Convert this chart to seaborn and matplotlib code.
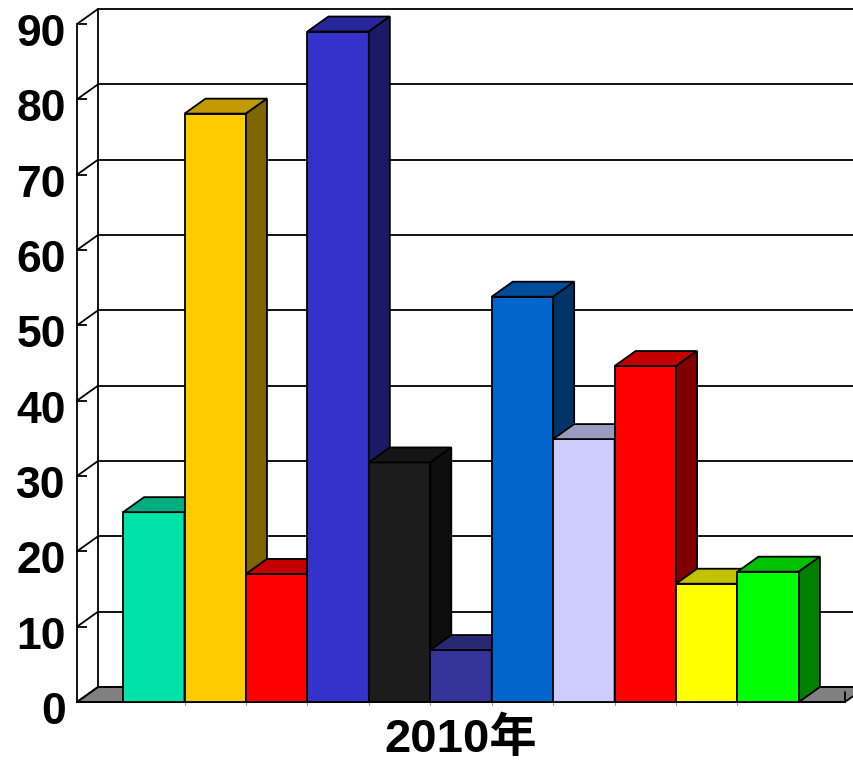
import numpy as np
import pandas as pd
import matplotlib
matplotlib.use("Agg")
import matplotlib.pyplot as plt
from matplotlib.patches import Polygon
from matplotlib.lines import Line2D
from matplotlib.colors import to_rgb
from matplotlib.transforms import ScaledTranslation
import seaborn as sns

# ---- data -------------------------------------------------------------
category = "2010年"
series = ["S1", "S2", "S3", "S4", "S5", "S6", "S7", "S8", "S9", "S10", "S11"]
values = [25.2, 78.1, 17.0, 89.0, 31.8, 6.9, 53.8, 34.9, 44.6, 15.7, 17.3]
colors = ["#00E3A8", "#FFCC00", "#FF0000", "#3333CC", "#1C1C1C", "#333399",
          "#0066CC", "#CCCCFF", "#FF0000", "#FFFF00", "#00FF00"]
yticks = list(range(0, 91, 10))

# ---- style ------------------------------------------------------------
sns.set_theme(style="white")
plt.rcParams["font.family"] = ["Liberation Sans", "Noto Sans CJK SC", "DejaVu Sans"]
plt.rcParams["font.weight"] = "bold"
plt.rcParams["text.color"] = "black"
plt.rcParams["xtick.color"] = "black"
plt.rcParams["ytick.color"] = "black"

DPI = 100
fig = plt.figure(figsize=(8.54, 7.62), dpi=DPI)
W, H = 854, 762
ax = fig.add_axes([77 / W, 1 - 702 / H, (845 - 77) / W, (702 - 24) / H])

LW = 1.3

df = pd.DataFrame({"cat": [category] * len(values), "series": series, "value": values})
sns.barplot(data=df, x="cat", y="value", hue="series", hue_order=series,
            palette=colors, saturation=1, width=0.88, legend=False,
            edgecolor="black", linewidth=LW, ax=ax)
bars = sorted(list(ax.patches), key=lambda p: p.get_x())

ax.set_xlim(-0.5, 0.5)
ax.set_ylim(0, 90)
ax.set_xlabel("")
ax.set_ylabel("")

# oblique depth offset in pixels (right, up)
DX, DY = 21, 15


def shift(x, y, dx=DX, dy=DY):
    px = ax.transData.transform((x, y)) + np.array([dx, dy])
    return tuple(ax.transData.inverted().transform(px))


# floor
floor = Polygon([(-0.5, 0), (0.5, 0), shift(0.5, 0), shift(-0.5, 0)],
                closed=True, facecolor="#808080", edgecolor="black",
                linewidth=LW, zorder=1, clip_on=False)
ax.add_patch(floor)

# back wall / side wall grid
for v in yticks:
    bx0, by0 = shift(-0.5, v)
    bx1, by1 = shift(0.5, v)
    ax.add_line(Line2D([bx0, bx1], [by0, by1], color="black", lw=LW,
                       zorder=1.5, clip_on=False))
    ax.add_line(Line2D([-0.5, bx0], [v, by0], color="black", lw=LW,
                       zorder=1.5, clip_on=False))
bx0, by0 = shift(-0.5, 0)
bx1, by1 = shift(-0.5, 90)
ax.add_line(Line2D([bx0, bx1], [by0, by1], color="black", lw=LW,
                   zorder=1.5, clip_on=False))

# bar top and side faces, drawn left to right
for i, p in enumerate(bars):
    x0 = p.get_x()
    x1 = x0 + p.get_width()
    h = p.get_height()
    base = np.array(to_rgb(p.get_facecolor()))
    p.set_zorder(3 + i)
    p.set_clip_on(False)
    top = Polygon([(x0, h), (x1, h), shift(x1, h), shift(x0, h)], closed=True,
                  facecolor=base * 0.76, edgecolor="black", linewidth=LW,
                  joinstyle="miter", zorder=3.5 + i, clip_on=False)
    side = Polygon([(x1, 0), (x1, h), shift(x1, h), shift(x1, 0)], closed=True,
                   facecolor=base * 0.5, edgecolor="black", linewidth=LW,
                   joinstyle="miter", zorder=3.5 + i, clip_on=False)
    ax.add_patch(top)
    ax.add_patch(side)

# small marks along the floor edge
for p in bars[1:]:
    xb = p.get_x()
    yb = shift(xb, 0, 0, -3)[1]
    ax.add_line(Line2D([xb, xb], [0, yb], color="#999999", lw=0.8,
                       zorder=2, clip_on=False))
ty = shift(0.5, 0, 0, 10)[1]
ax.add_line(Line2D([0.5, 0.5], [0, ty], color="black", lw=LW, zorder=2,
                   clip_on=False))

# axes
for s in ["top", "right"]:
    ax.spines[s].set_visible(False)
for s in ["left", "bottom"]:
    ax.spines[s].set_color("black")
    ax.spines[s].set_linewidth(LW)
    ax.spines[s].set_zorder(2)

ax.set_yticks(yticks)
ax.set_yticklabels([str(v) for v in yticks])
ax.tick_params(axis="y", direction="in", length=7.2, width=LW, color="black",
               labelcolor="black", pad=8, labelsize=32, left=True)
for lab in ax.get_yticklabels():
    lab.set_fontweight("bold")
    lab.set_transform(lab.get_transform() + ScaledTranslation(0, -6 / DPI, fig.dpi_scale_trans))

ax.set_xticks([0])
ax.set_xticklabels([category])
ax.tick_params(axis="x", length=0, pad=11, labelsize=34, labelcolor="black")
for lab in ax.get_xticklabels():
    lab.set_fontweight("bold")

ax.grid(False)
ax.set_facecolor("white")

fig.savefig("out.png", dpi=DPI, facecolor="white")
